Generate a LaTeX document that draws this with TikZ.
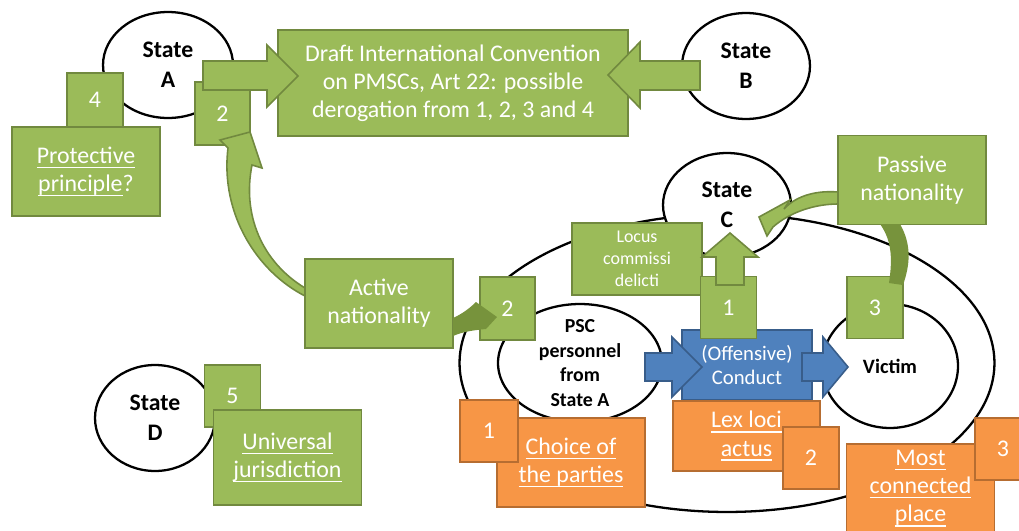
\documentclass[tikz,border=0pt]{standalone}
\usepackage{fontspec}
\setmainfont{Carlito}
\usetikzlibrary{shapes.geometric}

\definecolor{grnFill}{HTML}{9BBB59}
\definecolor{grnLine}{HTML}{71893F}
\definecolor{grnDark}{HTML}{77933C}
\definecolor{bluFill}{HTML}{4F81BD}
\definecolor{bluLine}{HTML}{385D8A}
\definecolor{orgFill}{HTML}{F79646}
\definecolor{orgLine}{HTML}{B66D31}

\newsavebox\undlbox
\newcommand{\undl}[1]{\sbox\undlbox{#1}\rlap{\rule[-2.6pt]{\wd\undlbox}{0.7pt}}\usebox\undlbox}

\tikzset{
  state/.style={ellipse, draw=black, fill=white, line width=1.3pt, inner sep=0pt,
    align=center, font=\fontsize{13.5}{17}\selectfont\bfseries},
  gbox/.style={rectangle, draw=grnLine, fill=grnFill, line width=0.9pt, inner sep=0pt,
    align=center, text=white, font=\fontsize{13.6}{16}\selectfont},
  obox/.style={gbox, draw=orgLine, fill=orgFill},
  bbox/.style={gbox, draw=bluLine, fill=bluFill, font=\fontsize{11.8}{13.3}\selectfont},
  sq/.style={minimum width=1.12cm, minimum height=1.24cm},
  wide/.style={minimum width=2.96cm, minimum height=1.78cm},
  garrow/.style={draw=grnLine, fill=grnFill, line width=0.9pt},
  barrow/.style={draw=bluLine, fill=bluFill, line width=0.9pt},
  darrow/.style={fill=grnDark},
}

\begin{document}
\begin{tikzpicture}[x=0.02cm, y=-0.02cm]
  \useasboundingbox (0,0) rectangle (1019,531);

  % states
  \node[state, minimum width=10.7cm, minimum height=5.96cm] (jur) at (727,363) {};
  \node[state, minimum width=2.56cm, minimum height=2.08cm] (stC) at (727,205) {State\\C};
  \node[state, minimum width=3.28cm, minimum height=2.36cm,
    label={[align=center, font=\fontsize{11.3}{13.9}\selectfont\bfseries]center:PSC\\personnel\\from\\State A}] (psc) at (580,363) {};
  \node[state, minimum width=2.72cm, minimum height=2.48cm, font=\fontsize{11.6}{14}\selectfont\bfseries] (victim) at (890,366) {Victim};
  \node[state, minimum width=2.6cm, minimum height=2.12cm] (stA) at (168,65) {State\\A};
  \node[state, minimum width=2.56cm, minimum height=2.12cm] (stB) at (746,66) {State\\B};
  \node[state, minimum width=2.4cm, minimum height=2.12cm] (stD) at (155,418) {State\\D};

  % top row
  \node[gbox, minimum width=7cm, minimum height=2.12cm] (draft) at (453,83)
    {Draft International Convention\\on PMSCs, Art 22: possible\\derogation from 1, 2, 3 and 4};
  \node[gbox, sq, minimum height=1.08cm] (numFour) at (95,100) {4};
  \node[gbox, wide] (protective) at (86,171.5) {\undl{Protective}\\\undl{principle}?};
  \node[gbox, minimum width=1.1cm, minimum height=1.26cm] (numTwoA) at (222.5,113.5) {2};
  \filldraw[garrow] (203,61) -- (267,61) -- (267,45) -- (298,76) -- (267,107) -- (267,90) -- (203,90) -- cycle;
  \filldraw[garrow] (700,61) -- (640,61) -- (640,42) -- (608,75) -- (640,108) -- (640,90) -- (700,90) -- cycle;

  % active nationality
  \node[gbox, wide] (active) at (379,303.5) {Active\\nationality};
  \node[gbox, minimum width=1.1cm, minimum height=1.26cm] (numTwoB) at (507.5,308.5) {2};
  \fill[darrow] (453,318) .. controls (462,314) and (470,308) .. (476,302) -- (497,317)
    -- (486,329) .. controls (474,330) and (462,332) .. (453,336) -- cycle;
  \filldraw[garrow] (305,296) .. controls (258,272) and (220,215) .. (228,148) -- (220,140)
    -- (250,132) -- (262,168) -- (252,165) .. controls (242,215) and (262,262) .. (305,288) -- cycle;

  % conduct
  \node[bbox, minimum width=2.6cm, minimum height=1.4cm] (conduct) at (747,365) {(Offensive)\\Conduct};
  \filldraw[barrow] (645,353) -- (672,353) -- (672,337) -- (702,367) -- (672,397) -- (672,381) -- (645,381) -- cycle;
  \filldraw[barrow] (802,353) -- (823,353) -- (823,337) -- (848,367) -- (823,397) -- (823,381) -- (802,381) -- cycle;

  % locus / passive
  \node[gbox, minimum width=2.6cm, minimum height=1.44cm, font=\fontsize{10.2}{12.5}\selectfont] (locus) at (637,259) {Locus\\commissi\\delicti};
  \node[gbox, sq] (numOne) at (728.5,307.5) {1};
  \filldraw[garrow] (716,285) -- (716,257) -- (702,257) -- (730,233) -- (758,257) -- (744,257) -- (744,285) -- cycle;
  \node[gbox, sq] (numThreeG) at (875,307.5) {3};
  \node[gbox, wide] (passive) at (912,180) {Passive\\nationality};
  \filldraw[garrow] (838,192) .. controls (812,190) and (794,198) .. (784,209) -- (790,200) -- (759,217)
    -- (767,236) -- (773,227) .. controls (790,212) and (815,204) .. (838,204) -- cycle;
  \fill[darrow] (880,224) .. controls (893,242) and (892,262) .. (889,283) -- (903,285)
    .. controls (910,265) and (912,245) .. (900,224) -- cycle;

  % orange
  \node[obox, wide] (choice) at (571,462.5) {\undl{Choice of}\\\undl{the parties}};
  \node[obox, sq, minimum width=1.16cm] (numOneO) at (489,431) {1};
  \node[obox, minimum width=2.94cm, minimum height=1.4cm] (lex) at (746.5,436) {\undl{Lex loci}\\\undl{actus}};
  \node[obox, sq] (numTwoO) at (811,458) {2};
  \node[obox, wide] (most) at (920.5,488.5) {\undl{Most}\\\undl{connected}\\\undl{place}};
  \node[obox, sq] (numThreeO) at (1003,449) {3};

  % universal
  \node[gbox, sq] (numFive) at (232.5,396) {5};
  \node[gbox, wide, minimum height=1.9cm] (universal) at (287.5,457.5) {\undl{Universal}\\\undl{jurisdiction}};
\end{tikzpicture}
\end{document}
